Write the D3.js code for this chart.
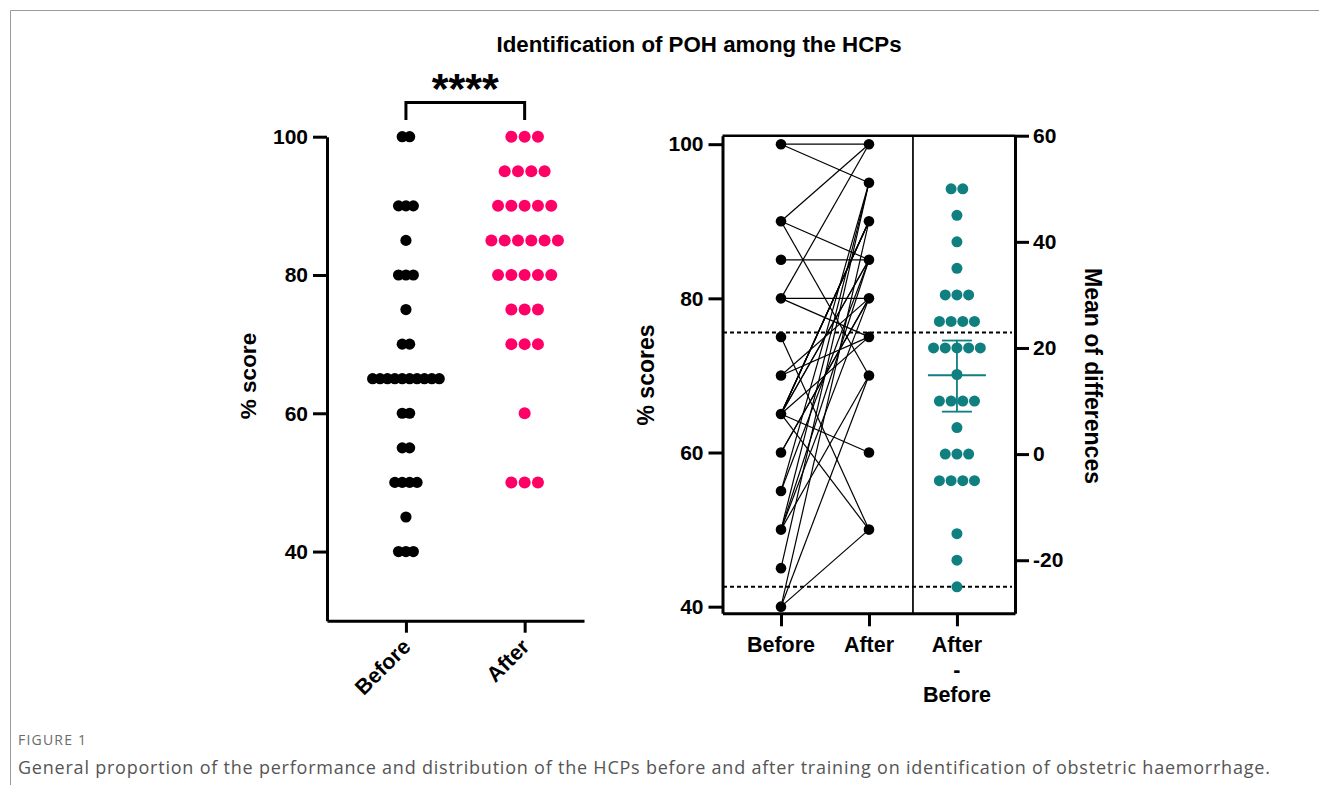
<!DOCTYPE html>
<html>
<head>
<meta charset="utf-8">
<script src="https://cdn.jsdelivr.net/npm/d3@7"></script>
<style>
  body { margin: 0; background: #fff; }
  svg { display: block; font-family: "Liberation Sans", Arial, sans-serif; }
</style>
</head>
<body>
<div id="chart"></div>
<script>
// values
var groups = ['Before', 'After'];
var beforeScores = [100, 100, 90, 90, 90, 85, 80, 80, 80, 75, 70, 70,
  65, 65, 65, 65, 65, 65, 65, 65, 65, 65, 60, 60, 55, 55, 50, 50, 50, 50, 45, 40, 40, 40];
var afterScores = [100, 100, 100, 95, 95, 95, 95, 90, 90, 90, 90, 90, 85, 85, 85, 85, 85, 85,
  80, 80, 80, 80, 80, 75, 75, 75, 70, 70, 70, 60, 50, 50, 50];
var differences = [50, 50, 45, 40, 35, 30, 30, 30, 25, 25, 25, 25, 20, 20, 20, 20, 20, 15,
  10, 10, 10, 10, 5, 0, 0, 0, -5, -5, -5, -5, -15, -20, -25];
// before -> after for each HCP (right panel lines)
var pairs = [[75, 50], [90, 70], [65, 50], [65, 60], [90, 85], [100, 95], [80, 75], [100, 100],
  [85, 85], [80, 80], [70, 75], [40, 50], [90, 100], [80, 100], [70, 80], [65, 75],
  [45, 95], [40, 90], [50, 95], [55, 95], [50, 85], [40, 70], [50, 70], [50, 80], [55, 85],
  [60, 80], [60, 80], [65, 90], [65, 90], [65, 90], [65, 90], [65, 85], [65, 85]];
var diffMean = 14.85;
var diffErr = [8.0, 21.4];
var refLines = [22.9, -25];
var scoreTicks = [40, 60, 80, 100];
var diffTicks = [-20, 0, 20, 40, 60];
var pairLabels = ['Before', 'After', ['After', '-', 'Before']];

var width = 1319, height = 785;
var pink = '#ff0066', teal = '#0f7f7f';

var svg = d3.select('#chart').append('svg')
  .attr('width', width)
  .attr('height', height);

// page frame
svg.append('path')
  .attr('d', 'M10.5,785V10.5H1319')
  .attr('fill', 'none')
  .attr('stroke', '#9a9a9a')
  .attr('stroke-width', 1);

svg.append('text')
  .attr('x', 699).attr('y', 52)
  .attr('text-anchor', 'middle')
  .attr('font-size', 22.3).attr('font-weight', 'bold')
  .text('Identification of POH among the HCPs');

function swarm(vals, gap) {
  var out = [];
  d3.group(vals, function (v) { return v; }).forEach(function (list, v) {
    var n = list.length;
    list.forEach(function (d, i) {
      out.push({ value: v, offset: (i - (n - 1) / 2) * gap });
    });
  });
  return out;
}

function styleAxis(g, w) {
  g.selectAll('.domain').attr('stroke-width', w).attr('stroke', '#000');
  g.selectAll('.tick line').attr('stroke-width', w).attr('stroke', '#000');
  g.selectAll('.tick text')
    .attr('font-size', 21).attr('font-weight', 'bold')
    .attr('font-family', '"Liberation Sans", Arial, sans-serif')
    .attr('fill', '#000');
}

function plain(d) { return String(d); }

// ---------- left panel ----------
var xL = d3.scaleLinear().domain([-0.665, 1.5]).range([327, 584]);
var yL = d3.scaleLinear().domain([30, 100]).range([620.7, 136.7]);

var left = svg.append('g');

left.append('g')
  .attr('transform', 'translate(327,0)')
  .call(d3.axisLeft(yL).tickValues(scoreTicks).tickSize(14).tickSizeOuter(0).tickPadding(5).tickFormat(plain))
  .call(styleAxis, 3);

left.append('g')
  .attr('transform', 'translate(0,620.7)')
  .call(d3.axisBottom(xL).tickValues([0, 1]).tickSize(12).tickSizeOuter(0).tickFormat(''))
  .call(styleAxis, 3);

left.selectAll('.grpLabel')
  .data(groups)
  .enter()
  .append('text')
  .attr('class', 'grpLabel')
  .attr('transform', function (d, i) { return 'translate(' + (xL(i) + 6) + ',648) rotate(-45)'; })
  .attr('text-anchor', 'end')
  .attr('font-size', 21.5).attr('font-weight', 'bold')
  .text(function (d) { return d; });

left.append('text')
  .attr('transform', 'translate(256,376) rotate(-90)')
  .attr('text-anchor', 'middle')
  .attr('font-size', 22.5).attr('font-weight', 'bold')
  .text('% score');

left.selectAll('.dotBefore')
  .data(swarm(beforeScores, 7.4))
  .enter()
  .append('circle')
  .attr('class', 'dotBefore')
  .attr('cx', function (d) { return xL(0) + d.offset; })
  .attr('cy', function (d) { return yL(d.value); })
  .attr('r', 5.6)
  .attr('fill', '#000');

left.selectAll('.dotAfter')
  .data(swarm(afterScores, 13.3))
  .enter()
  .append('circle')
  .attr('class', 'dotAfter')
  .attr('cx', function (d) { return xL(1) + d.offset; })
  .attr('cy', function (d) { return yL(d.value); })
  .attr('r', 6)
  .attr('fill', pink);

// significance bracket
left.append('path')
  .attr('d', 'M' + xL(0) + ',120V102.5H' + xL(1) + 'V120')
  .attr('fill', 'none')
  .attr('stroke', '#000')
  .attr('stroke-width', 3);
left.append('text')
  .attr('x', (xL(0) + xL(1)) / 2).attr('y', 103)
  .attr('text-anchor', 'middle')
  .attr('font-size', 43).attr('font-weight', 'bold')
  .text('****');

// ---------- right panel ----------
var xR = d3.scaleLinear().domain([-0.665, 2.66]).range([722.5, 1015]);
var yS = d3.scaleLinear().domain([39.14, 101.1]).range([613.3, 135.7]);
var yD = d3.scaleLinear().domain([-30, 60]).range([613.3, 135.7]);

var right = svg.append('g');

// reference lines
right.selectAll('.refLine')
  .data(refLines)
  .enter()
  .append('line')
  .attr('class', 'refLine')
  .attr('x1', 723).attr('x2', 1012)
  .attr('y1', function (d) { return yD(d); })
  .attr('y2', function (d) { return yD(d); })
  .attr('stroke', '#000')
  .attr('stroke-width', 2)
  .attr('stroke-dasharray', '4,3');

// panel divider and top border
right.append('line')
  .attr('x1', xR(1.5)).attr('x2', xR(1.5))
  .attr('y1', 135.7).attr('y2', 613.3)
  .attr('stroke', '#000').attr('stroke-width', 1.7);
right.append('line')
  .attr('x1', 722.5).attr('x2', 1015)
  .attr('y1', 135.7).attr('y2', 135.7)
  .attr('stroke', '#000').attr('stroke-width', 2.6);

right.append('g')
  .attr('transform', 'translate(722.5,0)')
  .call(d3.axisLeft(yS).tickValues(scoreTicks).tickSize(14).tickSizeOuter(0).tickPadding(5).tickFormat(plain))
  .call(styleAxis, 3);

right.append('g')
  .attr('transform', 'translate(1015,0)')
  .call(d3.axisRight(yD).tickValues(diffTicks).tickSize(14).tickSizeOuter(0).tickPadding(4).tickFormat(plain))
  .call(styleAxis, 3);

right.append('g')
  .attr('transform', 'translate(0,613.3)')
  .call(d3.axisBottom(xR).tickValues([0, 1, 2]).tickSize(13).tickSizeOuter(0).tickFormat(''))
  .call(styleAxis, 3);

right.selectAll('.pairLabel')
  .data(pairLabels)
  .enter()
  .append('text')
  .attr('class', 'pairLabel')
  .attr('x', function (d, i) { return xR(i); })
  .attr('y', 652)
  .attr('text-anchor', 'middle')
  .attr('font-size', 21.5).attr('font-weight', 'bold')
  .each(function (d) {
    var lines = Array.isArray(d) ? d : [d];
    var x0 = d3.select(this).attr('x');
    d3.select(this).selectAll('tspan')
      .data(lines)
      .enter()
      .append('tspan')
      .attr('x', x0)
      .attr('dy', function (l, j) { return j === 0 ? 0 : 25; })
      .text(function (l) { return l; });
  });

right.append('text')
  .attr('transform', 'translate(654,375) rotate(-90)')
  .attr('text-anchor', 'middle')
  .attr('font-size', 23).attr('font-weight', 'bold')
  .text('% scores');

right.append('text')
  .attr('transform', 'translate(1085,376) rotate(90)')
  .attr('text-anchor', 'middle')
  .attr('font-size', 23).attr('font-weight', 'bold')
  .text('Mean of differences');

// before-after lines
right.selectAll('.pairLine')
  .data(pairs)
  .enter()
  .append('line')
  .attr('class', 'pairLine')
  .attr('x1', xR(0)).attr('x2', xR(1))
  .attr('y1', function (d) { return yS(d[0]); })
  .attr('y2', function (d) { return yS(d[1]); })
  .attr('stroke', '#000')
  .attr('stroke-width', 1.2);

var pairDots = [];
[0, 1].forEach(function (k) {
  Array.from(new Set(pairs.map(function (p) { return p[k]; }))).forEach(function (v) {
    pairDots.push({ side: k, value: v });
  });
});
right.selectAll('.pairDot')
  .data(pairDots)
  .enter()
  .append('circle')
  .attr('class', 'pairDot')
  .attr('cx', function (d) { return xR(d.side); })
  .attr('cy', function (d) { return yS(d.value); })
  .attr('r', 5.3)
  .attr('fill', '#000');

// differences: mean with error bar
var cx = xR(2);
right.append('line')
  .attr('x1', cx).attr('x2', cx)
  .attr('y1', yD(diffErr[0])).attr('y2', yD(diffErr[1]))
  .attr('stroke', teal).attr('stroke-width', 1.8);
right.selectAll('.errCap')
  .data(diffErr)
  .enter()
  .append('line')
  .attr('class', 'errCap')
  .attr('x1', cx - 15).attr('x2', cx + 15)
  .attr('y1', function (d) { return yD(d); })
  .attr('y2', function (d) { return yD(d); })
  .attr('stroke', teal).attr('stroke-width', 1.8);
right.append('line')
  .attr('x1', cx - 29).attr('x2', cx + 29)
  .attr('y1', yD(diffMean)).attr('y2', yD(diffMean))
  .attr('stroke', teal).attr('stroke-width', 2);

right.selectAll('.diffDot')
  .data(swarm(differences, 11.7))
  .enter()
  .append('circle')
  .attr('class', 'diffDot')
  .attr('cx', function (d) { return cx + d.offset; })
  .attr('cy', function (d) { return yD(d.value); })
  .attr('r', 5.5)
  .attr('fill', teal);

// ---------- caption ----------
svg.append('text')
  .attr('x', 18).attr('y', 745)
  .attr('font-family', '"Open Sans", sans-serif')
  .attr('font-size', 14)
  .attr('fill', '#6b6b6b')
  .attr('letter-spacing', 1.2)
  .text('FIGURE 1');
svg.append('text')
  .attr('x', 18).attr('y', 774)
  .attr('font-family', '"Open Sans", sans-serif')
  .attr('font-size', 18)
  .attr('fill', '#555')
  .attr('letter-spacing', 0.78)
  .text('General proportion of the performance and distribution of the HCPs before and after training on identification of obstetric haemorrhage.');
</script>
</body>
</html>
